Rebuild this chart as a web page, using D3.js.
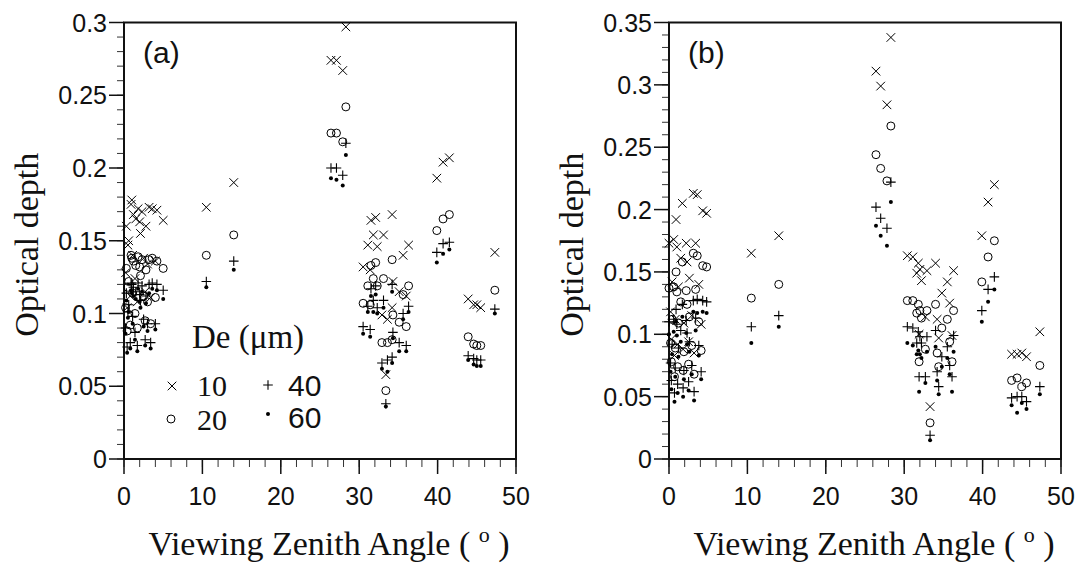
<!DOCTYPE html>
<html lang="en">
<head>
  <meta charset="UTF-8">
  <title>Optical depth vs viewing zenith angle</title>
  <script src="https://d3js.org/d3.v7.min.js"></script>
  <style>
    body { margin: 0; background: #fff; }
    svg { display: block; background: #fff; }
    .tick-label { font-family: "Liberation Sans", Arial, sans-serif; font-size: 25px; fill: #111; }
    .axis-title { font-family: "Liberation Serif", "Times New Roman", serif; font-size: 34px; fill: #111; }
    .panel-label { font-family: "Liberation Sans", Arial, sans-serif; font-size: 30px; fill: #111; }
  </style>
</head>
<body>
  <svg width="1081" height="563"></svg>

  <script>
    // ---- data ----
    // panel (a)
    const aAngles = [
      0.3, 0.6, 0.9, 1.0, 1.2, 1.5, 1.8, 2.0, 2.3, 2.1, 2.8, 3.2, 3.6, 4.2, 5.0, 0.5, 1.1, 2.5, 3.0, 0.2, 1.4, 4.0, 0.8, 1.7, 2.7, 3.4, 0.4,
      10.5, 14.0, 26.4, 27.1, 27.9, 28.3,
      31.5, 32.1, 34.2, 31.8, 33.1, 31.1, 32.3, 36.3, 35.6, 30.5, 31.4, 34.3, 35.1, 36.0, 34.2, 33.6, 32.9, 33.4,
      39.9, 40.7, 41.5, 43.9, 44.6, 45.0, 45.5, 47.3];
    const aTau10 = [
      .160, .150, .175, .178, .168, .165, .172, .163, .170, .155, .160, .173, .172, .171, .164, .147, .140, .138, .134, .128, .124, .136, .112, .108, .115, .111, .104,
      .173, .190, .274, .274, .267, .297,
      .164, .166, .168, .154, .154, .147, .146, .147, .140, .132, .130, .122, .115, .112, .104, .096, .099, .058,
      .193, .204, .207, .110, .106, .106, .104, .142];
    const aTau20 = [
      .131, .122, .140, .138, .136, .133, .139, .132, .137, .126, .130, .137, .138, .136, .131, .118, .114, .112, .108, .104, .100, .111, .092, .090, .095, .093, .088,
      .140, .154, .224, .224, .218, .242,
      .133, .135, .137, .124, .124, .119, .119, .119, .113, .107, .106, .099, .094, .091, .082, .080, .080, .047,
      .157, .165, .168, .084, .079, .078, .078, .116];
    const aTau40 = [
      .114, .106, .121, .120, .118, .115, .121, .113, .119, .109, .112, .120, .121, .120, .116, .101, .098, .096, .093, .090, .087, .093, .080, .078, .082, .080, .077,
      .122, .136, .200, .200, .195, .217,
      .117, .119, .120, .109, .109, .105, .104, .105, .100, .091, .089, .087, .080, .078, .070, .068, .066, .038,
      .142, .148, .149, .071, .069, .068, .068, .103];
    const aTau60 = [
      .109, .101, .116, .114, .112, .110, .117, .108, .115, .104, .107, .114, .117, .116, .110, .097, .093, .091, .088, .086, .082, .089, .076, .074, .078, .076, .073,
      .118, .130, .193, .192, .188, .209,
      .112, .113, .115, .101, .104, .101, .100, .101, .096, .086, .084, .083, .074, .074, .066, .060, .062, .036,
      .135, .141, .144, .068, .065, .064, .064, .100];

    // panel (b)
    const bAngles = [
      3.1, 3.6, 1.7, 0.9, 4.3, 4.8, 0.0, 0.6, 1.0, 2.2, 3.4, 1.5, 2.3, 0.4, 1.2, 2.6, 3.8, 0.2, 0.8, 1.9, 2.9, 4.1, 0.3, 1.1, 1.8, 2.5, 3.2, 0.7,
      10.5, 14.0, 26.4, 27.0, 27.8, 28.3,
      30.4, 31.1, 31.8, 34.0, 32.0, 31.6, 32.9, 32.2, 36.3, 35.5, 34.8, 35.8, 34.2, 32.7, 36.1, 34.4, 31.9, 33.3,
      39.9, 40.7, 41.5, 43.7, 44.4, 45.0, 45.6, 47.3];
    const bTau10 = [
      .213, .212, .205, .192, .199, .197, .173, .176, .170, .173, .173, .161, .158, .142, .138, .145, .140, .118, .112, .109, .115, .108, .096, .092, .088, .094, .085, .083,
      .165, .179, .311, .299, .284, .338,
      .163, .162, .157, .157, .152, .149, .151, .143, .151, .142, .133, .125, .112, .114, .099, .097, .100, .042,
      .179, .206, .220, .084, .084, .085, .082, .102];
    const bTau20 = [
      .165, .163, .158, .150, .155, .154, .137, .138, .134, .135, .136, .126, .124, .112, .109, .114, .110, .093, .089, .086, .091, .087, .078, .074, .071, .076, .068, .066,
      .129, .140, .244, .233, .223, .267,
      .127, .127, .124, .124, .119, .117, .119, .113, .119, .112, .105, .094, .085, .088, .078, .074, .078, .029,
      .142, .162, .175, .063, .065, .058, .061, .075];
    const bTau40 = [
      .127, .128, .124, .120, .127, .126, .110, .112, .108, .111, .113, .103, .101, .092, .089, .094, .091, .077, .073, .071, .075, .070, .063, .060, .057, .062, .054, .053,
      .106, .115, .202, .193, .185, .222,
      .106, .105, .102, .103, .098, .093, .098, .093, .099, .090, .082, .075, .070, .066, .066, .058, .066, .019,
      .119, .136, .146, .049, .050, .050, .046, .058];
    const bTau60 = [
      .118, .117, .114, .110, .118, .117, .100, .102, .099, .101, .103, .094, .092, .084, .082, .086, .083, .070, .066, .064, .068, .064, .056, .053, .050, .055, .047, .046,
      .093, .106, .187, .179, .171, .206,
      .093, .091, .087, .090, .084, .084, .086, .081, .086, .081, .074, .068, .063, .061, .054, .052, .054, .015,
      .110, .126, .136, .043, .037, .045, .040, .052];

    const xTicks = [0, 10, 20, 30, 40, 50];
    const aYTicks = [0, 0.05, 0.1, 0.15, 0.2, 0.25, 0.3];
    const bYTicks = [0, 0.05, 0.1, 0.15, 0.2, 0.25, 0.3, 0.35];
    const deSizes = ["10", "20", "40", "60"];
    const symbols = ["cross", "circle", "plus", "dot"];

    const SERIF = "'Liberation Serif', 'Times New Roman', serif";
    const SANS = "'Liberation Sans', Arial, sans-serif";

    const svg = d3.select("svg");
    const plotTop = 22.5, plotBottom = 459;

    // draw one marker of a given kind
    function marker(g, kind, x, y) {
      const s = 4.3;
      if (kind === "cross") {
        g.append("path").attr("d", `M${x - s},${y - s}L${x + s},${y + s}M${x - s},${y + s}L${x + s},${y - s}`)
          .attr("stroke", "#000").attr("stroke-width", 1);
      } else if (kind === "plus") {
        g.append("path").attr("d", `M${x - s - 0.5},${y}L${x + s + 0.5},${y}M${x},${y - s - 0.5}L${x},${y + s + 0.5}`)
          .attr("stroke", "#000").attr("stroke-width", 1.1);
      } else if (kind === "circle") {
        g.append("circle").attr("cx", x).attr("cy", y).attr("r", 4)
          .attr("fill", "none").attr("stroke", "#000").attr("stroke-width", 1);
      } else {
        g.append("circle").attr("cx", x).attr("cy", y).attr("r", 2).attr("fill", "#000");
      }
    }

    function drawPanel(left, right, yMax, yTicks, angles, series, label) {
      const x = d3.scaleLinear().domain([0, 50]).range([left, right]);
      const y = d3.scaleLinear().domain([0, yMax]).range([plotBottom, plotTop]);
      const g = svg.append("g");

      // minor / major ticks
      const yMinor = d3.range(0, Math.round(yMax * 100) + 1).map(i => i / 100);
      g.selectAll(".ymin").data(yMinor).enter().append("line")
        .attr("x1", left - 7).attr("x2", left)
        .attr("y1", d => y(d)).attr("y2", d => y(d))
        .attr("stroke", "#333").attr("stroke-width", 1);
      g.selectAll(".ymaj").data(yTicks).enter().append("line")
        .attr("x1", left - 15).attr("x2", left)
        .attr("y1", d => y(d)).attr("y2", d => y(d))
        .attr("stroke", "#111").attr("stroke-width", 1.5);
      g.selectAll(".ylab").data(yTicks).enter().append("text")
        .attr("class", "tick-label")
        .attr("x", left - 17).attr("y", d => y(d) + 9)
        .attr("text-anchor", "end")
        .text(d => +d.toFixed(2));

      const xMinor = d3.range(0, 51, 2);
      g.selectAll(".xmin").data(xMinor).enter().append("line")
        .attr("x1", d => x(d)).attr("x2", d => x(d))
        .attr("y1", plotBottom).attr("y2", plotBottom + 8)
        .attr("stroke", "#333").attr("stroke-width", 1);
      g.selectAll(".xmaj").data(xTicks).enter().append("line")
        .attr("x1", d => x(d)).attr("x2", d => x(d))
        .attr("y1", plotBottom).attr("y2", plotBottom + 15)
        .attr("stroke", "#111").attr("stroke-width", 1.5);
      g.selectAll(".xlab").data(xTicks).enter().append("text")
        .attr("class", "tick-label")
        .attr("x", d => x(d)).attr("y", 505)
        .attr("text-anchor", "middle")
        .text(d => d);

      // frame
      g.append("rect")
        .attr("x", left).attr("y", plotTop)
        .attr("width", right - left).attr("height", plotBottom - plotTop)
        .attr("fill", "none").attr("stroke", "#111").attr("stroke-width", 2);

      // points, one series after the other
      series.forEach((vals, k) => {
        const pg = g.append("g");
        angles.forEach((a, i) => marker(pg, symbols[k], x(a), y(vals[i])));
      });

      // panel letter
      g.append("text").attr("class", "panel-label")
        .attr("x", left + 19).attr("y", 63).text(label);

      // axis titles
      g.append("text").attr("class", "axis-title")
        .attr("transform", `translate(${left - 86},${(plotTop + plotBottom) / 2 + 4}) rotate(-90)`)
        .attr("text-anchor", "middle")
        .text("Optical depth");

      const xt = g.append("text").attr("class", "axis-title")
        .attr("x", (left + right) / 2 + 9).attr("y", 555)
        .attr("text-anchor", "middle");
      xt.append("tspan").text("Viewing Zenith Angle ( ");
      xt.append("tspan").attr("font-size", 22).attr("dy", -13).text("o");
      xt.append("tspan").attr("dy", 13).text(" )");

      return g;
    }

    const ga = drawPanel(124, 516, 0.3, aYTicks, aAngles, [aTau10, aTau20, aTau40, aTau60], "(a)");
    drawPanel(669, 1061, 0.35, bYTicks, bAngles, [bTau10, bTau20, bTau40, bTau60], "(b)");

    // legend in panel (a)
    const leg = ga.append("g");
    leg.append("text").attr("font-family", SERIF).attr("font-size", 33).attr("fill", "#111")
      .attr("x", 192).attr("y", 348).text("De (\u03bcm)");
    const legPos = [[172, 386, 197, 396, SERIF], [171, 419, 197, 430, SERIF],
                    [268, 385, 288, 396, SANS], [268, 414, 288, 428, SANS]];
    deSizes.forEach((d, k) => {
      const p = legPos[k];
      marker(leg, symbols[k], p[0], p[1]);
      leg.append("text").attr("font-family", p[4]).attr("font-size", 30).attr("fill", "#111")
        .attr("x", p[2]).attr("y", p[3]).text(d);
    });
  </script>
</body>
</html>
